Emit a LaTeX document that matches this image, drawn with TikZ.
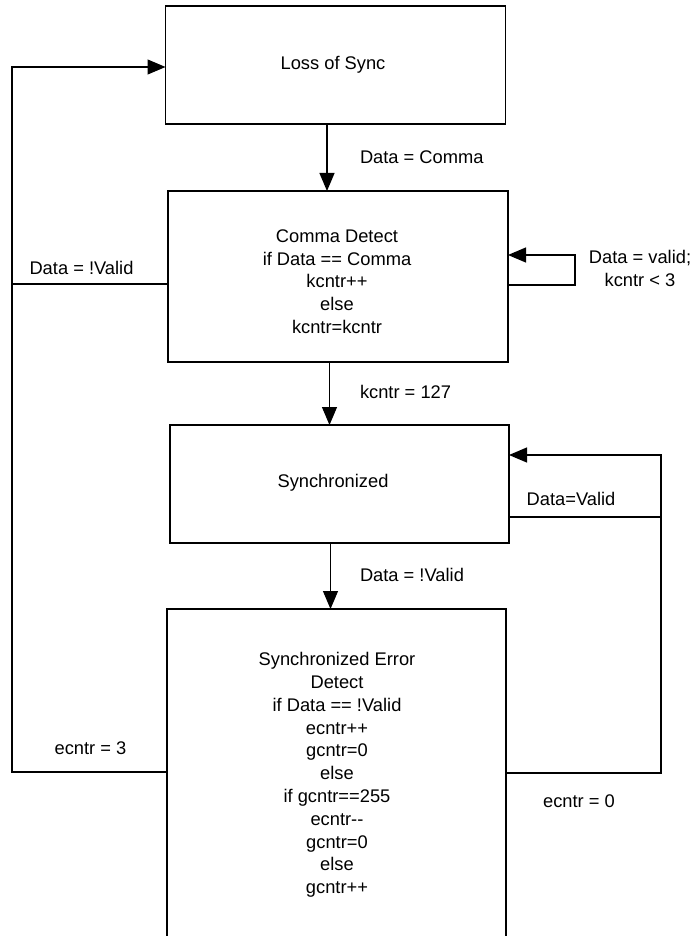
\documentclass[tikz,border=0pt]{standalone}
\usepackage{fontspec}
\setmainfont{Liberation Sans}
\usetikzlibrary{arrows.meta}
\begin{document}
\begin{tikzpicture}[x=1pt,y=-1pt,
  every node/.style={font=\fontsize{18.3}{22.8}\selectfont, inner sep=0pt, outer sep=0pt},
  box/.style={draw=black, line width=1.3pt, rectangle},
  txt/.style={align=center},
  conn/.style={draw=black, line width=1.2pt},
  arr/.style={conn, -{Triangle[length=18pt,width=15pt]}}]
\useasboundingbox[fill=white] (0,0) rectangle (691,936);
% boxes
\node[box, minimum width=340pt, minimum height=118pt] (b1) at (335.5,65) {};
\node[txt] (t1) at (333,65) {Loss of Sync};
\node[box, minimum width=340pt, minimum height=171pt] (b2) at (338,276.5) {};
\node[txt] (t2) at (337,281.5) {Comma Detect\\if Data == Comma\\kcntr++\\else\\kcntr=kcntr};
\node[box, minimum width=339pt, minimum height=118pt] (b3) at (339.5,484) {};
\node[txt] (t3) at (333,483) {Synchronized};
\node[box, minimum width=339pt, minimum height=332pt] (b4) at (336.5,775) {};
\node[txt] (t4) at (337,775) {Synchronized Error\\Detect\\if Data == !Valid\\ecntr++\\gcntr=0\\else\\if gcntr==255\\ecntr-{}-\\gcntr=0\\else\\gcntr++};
% vertical arrows
\coordinate (A1) at (327,0);
\coordinate (A2) at (329.5,0);
\coordinate (A3) at (330.5,0);
\draw[arr] (b1.south -| A1) -- (b2.north -| A1);
\draw[arr] (b2.south -| A2) -- (b3.north -| A2);
\draw[arr] (b3.south -| A3) -- (b4.north -| A3);
\node[anchor=west] (l1) at (360,157) {Data = Comma};
\node[anchor=west] (l2) at (360,392) {kcntr = 127};
\node[anchor=west] (l3) at (360,575) {Data = !Valid};
% left loop
\coordinate (L1) at (12,67);
\coordinate (L2) at (12,284);
\coordinate (L4) at (12,772);
\draw[arr] (b4.west |- L4) -- (L4) -- (L1) -- (b1.west |- L1);
\draw[conn] (b2.west |- L2) -- (L2);
\node (l4) at (81.5,268) {Data = !Valid};
\node (l5) at (90.5,748) {ecntr = 3};
% self loop on comma detect
\coordinate (S1) at (575,285);
\coordinate (S2) at (575,255);
\draw[arr] (b2.east |- S1) -- (S1) -- (S2) -- (b2.east |- S2);
\node[txt] (l6) at (640,268.5) {Data = valid;\\kcntr < 3};
% right loop
\coordinate (R0) at (661,455);
\coordinate (R3) at (661,517);
\coordinate (R4) at (661,773);
\draw[arr] (b4.east |- R4) -- (R4) -- (R0) -- (b3.east |- R0);
\draw[conn] (b3.east |- R3) -- (R3);
\node (l7) at (571,499) {Data=Valid};
\node (l8) at (579,801) {ecntr = 0};
\end{tikzpicture}
\end{document}
